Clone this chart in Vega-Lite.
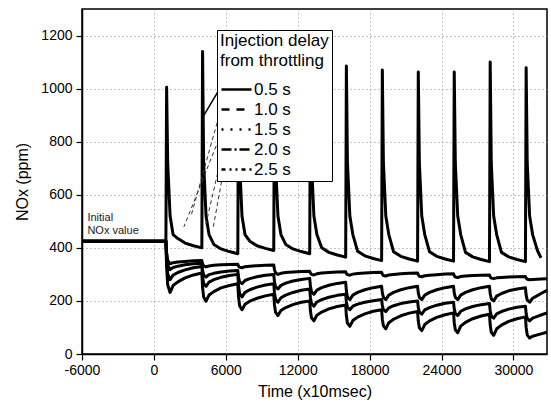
{
"$schema":"https://vega.github.io/schema/vega-lite/v6.json",
"width":465,"height":345,"autosize":"none",
"padding":{"left":82,"top":9,"right":4,"bottom":51},
"config":{"view":{"stroke":"black","strokeWidth":1.5},"font":"Liberation Sans",
"axis":{"labelFont":"Liberation Sans","titleFont":"Liberation Sans","labelColor":"black","titleColor":"black","domainColor":"black","tickColor":"black","domainWidth":1.5,"tickWidth":1.2,"gridColor":"#888","gridDash":[1,3],"labelFontSize":14,"titleFontSize":16,"titleFontWeight":"normal","labelOverlap":false}},
"datasets":{"curves":[
{"x":-6000,"A":425,"B":425,"C":425,"D":425,"E":425},
{"x":900,"A":425,"B":425,"C":425,"D":425,"E":425},
{"x":1000,"A":425,"B":425,"C":425,"D":425,"E":425},
{"x":1060,"A":1005,"B":382,"C":372,"D":352,"E":328},
{"x":1150,"A":720,"B":353,"C":334,"D":302,"E":261},
{"x":1350,"A":520,"B":340,"C":318,"D":280,"E":232},
{"x":1600,"A":450,"B":344,"C":326,"D":297,"E":258},
{"x":2000,"A":435,"B":347,"C":331,"D":307,"E":272},
{"x":2600,"A":418,"B":349,"C":336,"D":317,"E":287},
{"x":3300,"A":408,"B":351,"C":340,"D":325,"E":298},
{"x":4000,"A":400,"B":352,"C":342,"D":330,"E":305},
{"x":4060,"A":1140,"B":340,"C":316,"D":292,"E":252},
{"x":4150,"A":720,"B":332,"C":298,"D":266,"E":215},
{"x":4350,"A":520,"B":328,"C":290,"D":255,"E":199},
{"x":4600,"A":450,"B":332,"C":299,"D":271,"E":222},
{"x":5000,"A":413,"B":334,"C":304,"D":280,"E":235},
{"x":5600,"A":396,"B":336,"C":309,"D":289,"E":249},
{"x":6300,"A":386,"B":337,"C":313,"D":296,"E":258},
{"x":7000,"A":378,"B":338,"C":315,"D":300,"E":265},
{"x":7060,"A":1080,"B":331,"C":290,"D":257,"E":216},
{"x":7150,"A":720,"B":327,"C":272,"D":228,"E":182},
{"x":7350,"A":520,"B":325,"C":265,"D":215,"E":167},
{"x":7600,"A":450,"B":329,"C":277,"D":232,"E":187},
{"x":8000,"A":425,"B":331,"C":284,"D":242,"E":199},
{"x":8600,"A":408,"B":333,"C":291,"D":252,"E":210},
{"x":9300,"A":398,"B":334,"C":297,"D":260,"E":219},
{"x":10000,"A":390,"B":335,"C":300,"D":265,"E":225},
{"x":10060,"A":1090,"B":318,"C":272,"D":230,"E":185},
{"x":10150,"A":720,"B":305,"C":253,"D":206,"E":157},
{"x":10350,"A":520,"B":300,"C":245,"D":195,"E":145},
{"x":10600,"A":450,"B":304,"C":259,"D":212,"E":164},
{"x":11000,"A":413,"B":307,"C":267,"D":222,"E":175},
{"x":11600,"A":396,"B":309,"C":275,"D":232,"E":186},
{"x":12300,"A":386,"B":311,"C":281,"D":240,"E":195},
{"x":13000,"A":378,"B":312,"C":285,"D":245,"E":200},
{"x":13060,"A":1075,"B":305,"C":255,"D":212,"E":162},
{"x":13150,"A":720,"B":300,"C":234,"D":190,"E":136},
{"x":13350,"A":520,"B":298,"C":225,"D":180,"E":125},
{"x":13600,"A":450,"B":302,"C":241,"D":196,"E":146},
{"x":14000,"A":400,"B":305,"C":250,"D":205,"E":158},
{"x":14600,"A":383,"B":307,"C":259,"D":214,"E":170},
{"x":15300,"A":373,"B":309,"C":266,"D":221,"E":179},
{"x":16000,"A":365,"B":310,"C":270,"D":225,"E":185},
{"x":16060,"A":1085,"B":303,"C":237,"D":196,"E":144},
{"x":16150,"A":720,"B":299,"C":215,"D":176,"E":116},
{"x":16350,"A":520,"B":297,"C":205,"D":167,"E":104},
{"x":16600,"A":450,"B":301,"C":222,"D":180,"E":126},
{"x":17000,"A":387,"B":303,"C":232,"D":188,"E":139},
{"x":17600,"A":370,"B":305,"C":242,"D":195,"E":151},
{"x":18300,"A":360,"B":307,"C":250,"D":201,"E":161},
{"x":19000,"A":352,"B":308,"C":255,"D":205,"E":167},
{"x":19060,"A":1070,"B":301,"C":230,"D":182,"E":131},
{"x":19150,"A":720,"B":296,"C":213,"D":167,"E":106},
{"x":19350,"A":520,"B":294,"C":205,"D":160,"E":95},
{"x":19600,"A":450,"B":298,"C":222,"D":174,"E":118},
{"x":20000,"A":385,"B":300,"C":232,"D":182,"E":131},
{"x":20600,"A":368,"B":302,"C":242,"D":190,"E":144},
{"x":21300,"A":358,"B":304,"C":250,"D":196,"E":154},
{"x":22000,"A":350,"B":305,"C":255,"D":200,"E":160},
{"x":22060,"A":1063,"B":298,"C":230,"D":175,"E":124},
{"x":22150,"A":720,"B":293,"C":213,"D":158,"E":99},
{"x":22350,"A":520,"B":291,"C":205,"D":150,"E":88},
{"x":22600,"A":450,"B":295,"C":222,"D":166,"E":111},
{"x":23000,"A":385,"B":297,"C":232,"D":175,"E":125},
{"x":23600,"A":368,"B":299,"C":242,"D":184,"E":138},
{"x":24300,"A":358,"B":301,"C":250,"D":191,"E":148},
{"x":25000,"A":350,"B":302,"C":255,"D":195,"E":155},
{"x":25060,"A":1063,"B":295,"C":230,"D":170,"E":118},
{"x":25150,"A":720,"B":290,"C":213,"D":153,"E":91},
{"x":25350,"A":520,"B":288,"C":205,"D":145,"E":80},
{"x":25600,"A":450,"B":292,"C":222,"D":161,"E":105},
{"x":26000,"A":383,"B":294,"C":232,"D":170,"E":119},
{"x":26600,"A":366,"B":296,"C":242,"D":179,"E":133},
{"x":27300,"A":356,"B":297,"C":250,"D":186,"E":143},
{"x":28000,"A":348,"B":298,"C":255,"D":190,"E":150},
{"x":28060,"A":1100,"B":291,"C":228,"D":163,"E":110},
{"x":28150,"A":720,"B":286,"C":208,"D":143,"E":82},
{"x":28350,"A":520,"B":284,"C":200,"D":135,"E":70},
{"x":28600,"A":450,"B":287,"C":218,"D":151,"E":95},
{"x":29000,"A":383,"B":288,"C":228,"D":160,"E":109},
{"x":29600,"A":366,"B":290,"C":238,"D":169,"E":123},
{"x":30300,"A":356,"B":291,"C":245,"D":176,"E":133},
{"x":31000,"A":348,"B":292,"C":250,"D":180,"E":140},
{"x":31060,"A":1079,"B":286,"C":222,"D":152,"E":100},
{"x":31150,"A":720,"B":282,"C":203,"D":133,"E":72},
{"x":31350,"A":520,"B":280,"C":195,"D":125,"E":60},
{"x":31600,"A":450,"B":281,"C":210,"D":135,"E":67},
{"x":32000,"A":390,"B":282,"C":220,"D":142,"E":72},
{"x":32300,"A":362,"B":283,"C":228,"D":147,"E":76},
{"x":32800,"B":284,"C":240,"D":155,"E":82}
]},
"layer":[
{"data":{"name":"curves"},
"transform":[{"fold":["A","B","C","D","E"],"as":["s","v"]},{"filter":"isValid(datum.v)"}],
"mark":{"type":"line","color":"black","strokeWidth":3,"strokeJoin":"round"},
"encoding":{
"x":{"field":"x","type":"quantitative","scale":{"domain":[-6000,32800],"nice":false,"zero":false},
"axis":{"title":"Time (x10msec)","values":[-6000,-3000,0,3000,6000,9000,12000,15000,18000,21000,24000,27000,30000],"labelExpr":"datum.value % 6000 == 0 ? '' + datum.value : ''","labelFlush":false,"grid":true,"gridOpacity":{"condition":{"test":"datum.value % 6000 == 0 && datum.value > -6000","value":1},"value":0},"tickSize":{"condition":{"test":"datum.value % 6000 == 0","value":6},"value":3},"labelPadding":3,"titlePadding":6}},
"y":{"field":"v","type":"quantitative","scale":{"domain":[0,1300],"nice":false},
"axis":{"title":"NOx (ppm)","values":[0,100,200,300,400,500,600,700,800,900,1000,1100,1200],"labelExpr":"datum.value % 200 == 0 ? '' + datum.value : ''","grid":true,"gridOpacity":{"condition":{"test":"datum.value % 200 == 0 && datum.value > 0","value":1},"value":0},"tickSize":{"condition":{"test":"datum.value % 200 == 0","value":6},"value":3},"labelPadding":4,"titlePadding":10}},
"detail":{"field":"s"}}},
{"data":{"values":[{"s":"0.5 s","x":0,"v":425},{"s":"1.0 s","x":0,"v":425},{"s":"1.5 s","x":0,"v":425},{"s":"2.0 s","x":0,"v":425},{"s":"2.5 s","x":0,"v":425}]},
"mark":{"type":"line","color":"black","strokeWidth":2.5},
"encoding":{"x":{"field":"x","type":"quantitative"},"y":{"field":"v","type":"quantitative"},
"strokeDash":{"field":"s","type":"nominal","scale":{"domain":["0.5 s","1.0 s","1.5 s","2.0 s","2.5 s"],"range":[[1,0],[8,7],[2,7],[10,3,2,3],[4,4,2,4,2,4]]},
"legend":{"title":["Injection delay","from throttling"],"orient":"none","legendX":135,"legendY":21,"strokeColor":"black","fillColor":"white","padding":3,"titleFontSize":17,"titleFontWeight":"normal","titleFont":"Liberation Sans","titleColor":"black","titleLineHeight":20,"titlePadding":8,"labelFontSize":17,"labelFont":"Liberation Sans","labelColor":"black","symbolType":"M-1,0H2","symbolSize":400,"symbolStrokeWidth":2.5,"symbolStrokeColor":"black","symbolFillColor":"transparent","rowPadding":-1,"labelOffset":11}}}},
{"data":{"values":[{"x":-5550,"v":514,"t":"Initial"},{"x":-5550,"v":462,"t":"NOx value"}]},
"mark":{"type":"text","align":"left","baseline":"middle","fontSize":11,"font":"Liberation Sans","color":"#222"},
"encoding":{"x":{"field":"x","type":"quantitative"},"y":{"field":"v","type":"quantitative"},"text":{"field":"t"}}},
{"data":{"values":[{"x":5667,"v":1013,"x2":4167,"v2":899}]},
"mark":{"type":"rule","color":"black","strokeWidth":1.5},
"encoding":{"x":{"field":"x","type":"quantitative"},"y":{"field":"v","type":"quantitative"},"x2":{"field":"x2"},"y2":{"field":"v2"}}},
{"data":{"values":[{"x":5750,"v":948,"x2":3083,"v2":518},{"x":5417,"v":809,"x2":2500,"v2":479},{"x":5583,"v":733,"x2":4333,"v2":488},{"x":5750,"v":676,"x2":4917,"v2":469}]},
"mark":{"type":"rule","color":"#333","strokeWidth":1,"strokeDash":[4,3]},
"encoding":{"x":{"field":"x","type":"quantitative"},"y":{"field":"v","type":"quantitative"},"x2":{"field":"x2"},"y2":{"field":"v2"}}}
]
}
